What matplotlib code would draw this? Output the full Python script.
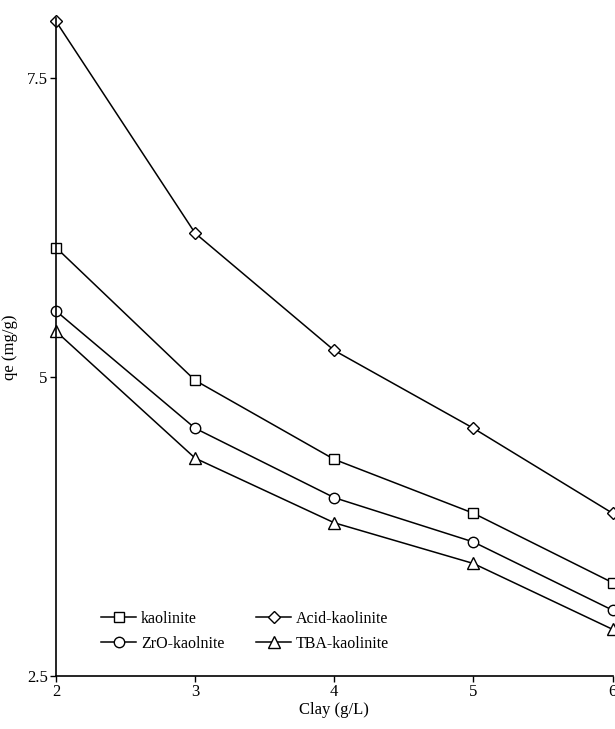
import matplotlib.pyplot as plt

clay = [2, 3, 4, 5, 6]
kaolinite = [6.08, 4.97, 4.31, 3.86, 3.28]
acid_kaolinite = [7.97, 6.20, 5.22, 4.57, 3.86]
zro_kaolinite = [5.55, 4.57, 3.99, 3.62, 3.05]
tba_kaolinite = [5.38, 4.32, 3.78, 3.44, 2.89]

plt.rcParams["font.family"] = ["Liberation Serif", "DejaVu Serif"]

fig = plt.figure(figsize=(6.15, 7.29), dpi=100)
ax = fig.add_axes([0.091, 0.0727, 0.905, 0.903])

style = dict(color="black", linewidth=1.1, markersize=7.5,
             markerfacecolor="white", markeredgecolor="black",
             markeredgewidth=1.0, clip_on=False)

ax.plot(clay, kaolinite, marker="s", label="kaolinite", **style)
ax.plot(clay, zro_kaolinite, marker="o", label="ZrO-kaolnite", **style)
ax.plot(clay, acid_kaolinite, marker="D", label="Acid-kaolinite",
        **{**style, "markersize": 6.5})
ax.plot(clay, tba_kaolinite, marker="^", label="TBA-kaolinite",
        **{**style, "markersize": 8})

ax.set_xlim(2, 6)
ax.set_ylim(2.5, 8.0)
ax.set_xticks([2, 3, 4, 5, 6])
ax.set_yticks([2.5, 5, 7.5])
ax.set_yticklabels(["2.5", "5", "7.5"])
ax.tick_params(direction="out", length=4, width=1, labelsize=12, pad=2)

for side in ["top", "right"]:
    ax.spines[side].set_visible(False)
for side in ["left", "bottom"]:
    ax.spines[side].set_linewidth(1.2)

ax.set_xlabel("Clay (g/L)", fontsize=12, labelpad=1)
ax.set_ylabel("qe (mg/g)", fontsize=12, labelpad=6)

ax.legend(loc="lower left", bbox_to_anchor=(0.055, 0.015), ncol=2,
          frameon=False, fontsize=11.5, handlelength=2.2, handletextpad=0.3,
          columnspacing=2.0, labelspacing=0.55)

fig.savefig("out.png", dpi=100)
